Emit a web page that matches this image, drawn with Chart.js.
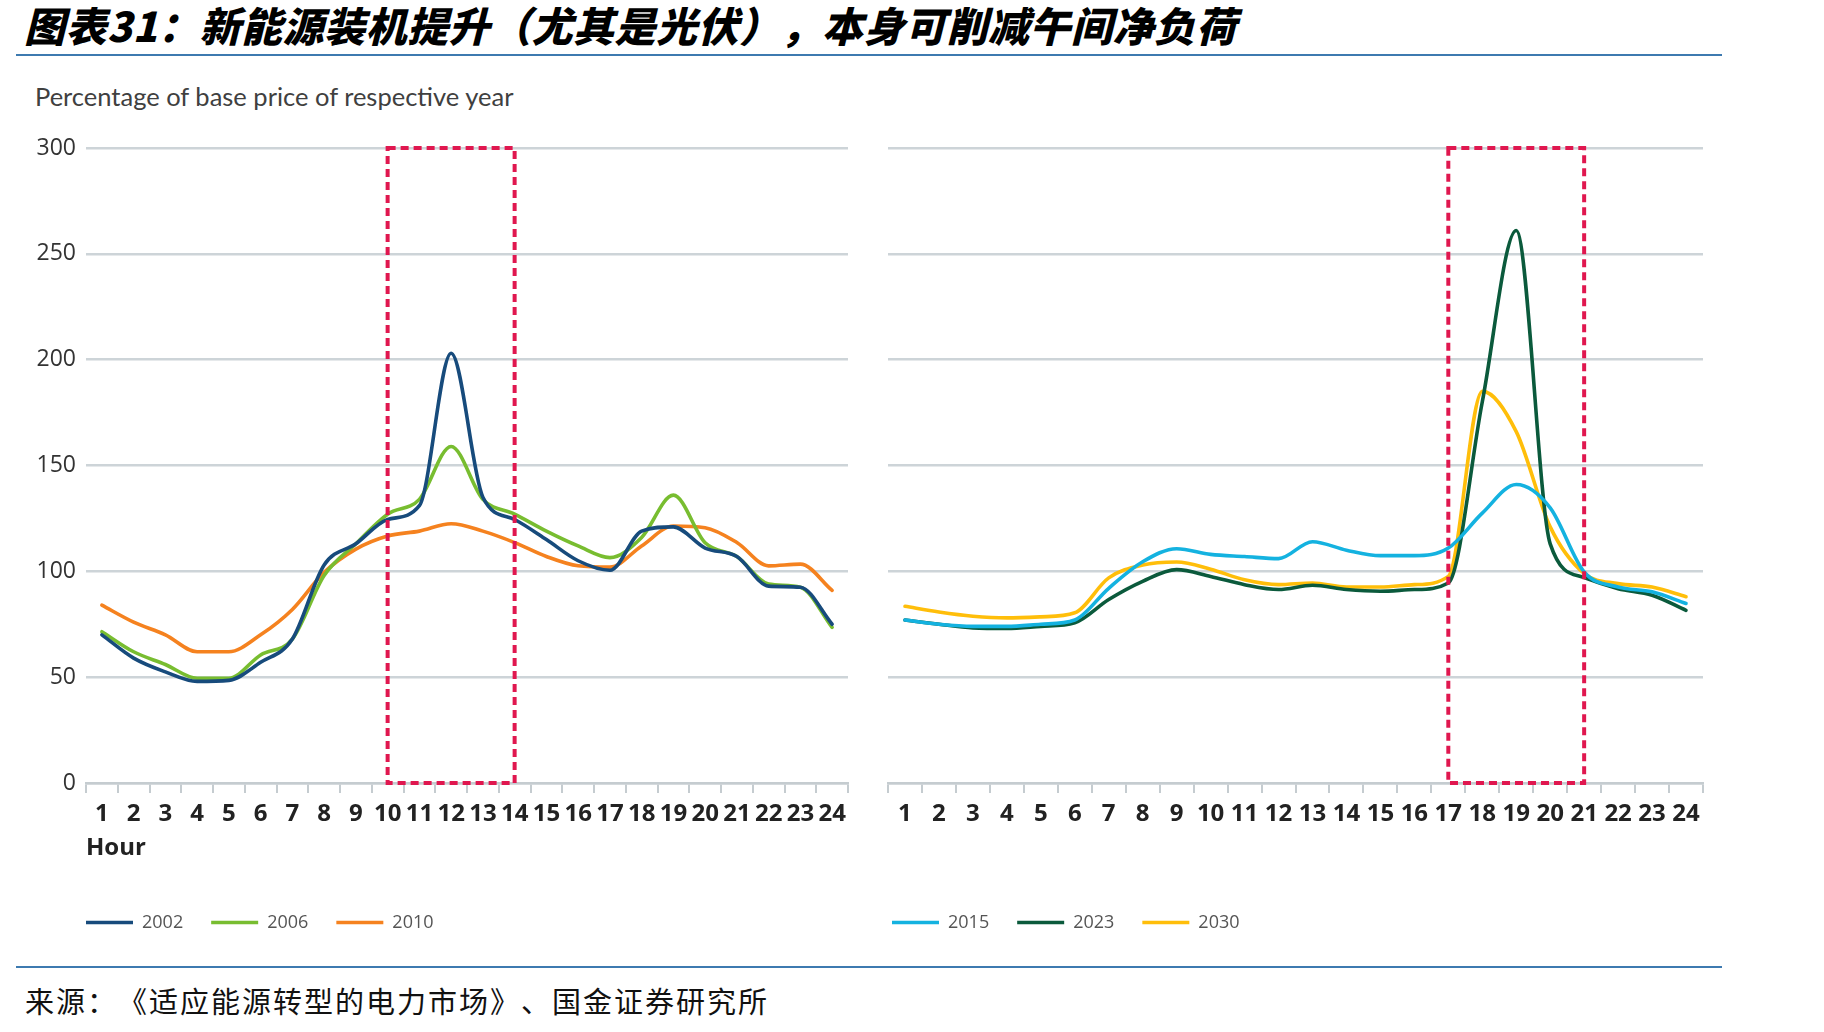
<!DOCTYPE html>
<html>
<head>
<meta charset="utf-8">
<script src="https://cdn.jsdelivr.net/npm/chart.js@4.4.1/dist/chart.umd.min.js"></script>
<style>
  body { margin: 0; background: #fff; width: 1824px; height: 1032px; overflow: hidden; position: relative; }
  .title { position: absolute; left: 24px; top: 0px; font: italic 900 41px "Noto Sans CJK SC"; color: #000; white-space: nowrap; line-height: 48px; letter-spacing: 0.5px; text-spacing-trim: space-all; }
  .rule { position: absolute; left: 16px; width: 1706px; height: 2px; background: #3d7ab0; }
  .ylab { position: absolute; left: 35px; top: 81px; font: 25.5px Lato; color: #404040; white-space: nowrap; }
  .source { position: absolute; left: 25px; top: 981px; font: 400 29px "Noto Sans CJK SC"; color: #111; white-space: nowrap; line-height: 38px; letter-spacing: 2px; text-spacing-trim: space-all; }
  canvas { position: absolute; top: 100px; }
</style>
</head>
<body>
<div class="title">图表31：新能源装机提升（尤其是光伏），本身可削减午间净负荷</div>
<div class="rule" style="top:54px"></div>
<div class="ylab">Percentage of base price of respective year</div>
<canvas id="left" width="880" height="839" style="left:0px"></canvas>
<canvas id="right" width="880" height="839" style="left:870px"></canvas>
<div class="rule" style="top:966px"></div>
<div class="source">来源：《适应能源转型的电力市场》、国金证券研究所</div>
<script>
const hours = ['1','2','3','4','5','6','7','8','9','10','11','12','13','14','15','16','17','18','19','20','21','22','23','24'];

// left panel
const y2002 = [70, 59, 52.5, 48, 48.5, 57, 68, 103, 113, 124.5, 131, 203, 135, 124.5, 115, 105, 100.5, 119, 121, 111, 107, 93, 92.5, 75];
const y2006 = [71.5, 62, 56, 49.5, 49.5, 60.5, 68, 98, 113, 127, 134, 159, 134, 127, 119, 112, 106.5, 116, 136, 113.5, 107, 94, 92.5, 73.5];
const y2010 = [84, 76, 70, 62, 62, 70, 82, 99.5, 110.5, 116.7, 119, 122.5, 119, 113.6, 107, 102.6, 102, 112, 121.4, 120.6, 113.6, 102.6, 103.4, 91];

// right panel
const y2015 = [77, 75, 74, 74, 75, 77, 92, 104.5, 110.7, 108, 107, 106, 114, 110, 107.4, 107.4, 111, 127.5, 141, 130, 99.7, 92.6, 90.3, 84.8];
const y2023 = [77, 75, 73.3, 73, 74, 75.7, 86.7, 95.3, 100.8, 97.6, 93.7, 91.4, 93.4, 91.4, 90.6, 91.4, 94.5, 180, 261, 113, 97, 91.8, 88.7, 81.6];
const y2030 = [83.5, 80.8, 78.8, 78, 78.5, 80.4, 96.9, 103, 104.4, 101, 96, 93.7, 94.5, 92.6, 92.6, 93.7, 97.6, 185, 166, 121, 99, 94.2, 92.6, 88];

const yTicks = [0, 50, 100, 150, 200, 250, 300];
const leftHighlight = ['10', '14'];
const rightHighlight = ['17', '21'];

Chart.defaults.font.family = 'Open Sans';
Chart.defaults.color = '#333';

const highlightBox = {
  id: 'highlightBox',
  afterDatasetsDraw(chart, args, opts) {
    const { ctx, scales: { x, y } } = chart;
    const x0 = x.getPixelForValue(hours.indexOf(opts.range[0]));
    const x1 = x.getPixelForValue(hours.indexOf(opts.range[1]));
    const y0 = y.getPixelForValue(yTicks[yTicks.length - 1]);
    const y1 = y.getPixelForValue(yTicks[0]);
    ctx.save();
    ctx.strokeStyle = '#e0174f';
    ctx.lineWidth = 4;
    ctx.setLineDash([8, 5]);
    ctx.strokeRect(x0, y0, x1 - x0, y1 - y0);
    ctx.restore();
  }
};

// move the legend so it starts under the plot, as in the source figure
const legendShift = {
  id: 'legendShift',
  afterLayout(chart, args, opts) {
    const lg = chart.legend;
    lg.left = chart.chartArea.left - lg.options.labels.padding + (opts.dx || 0);
    lg.top += 2.5;
  }
};

function makeDataset(label, data, color) {
  return {
    label: label,
    data: data,
    borderColor: color,
    backgroundColor: color,
    borderWidth: 3.6,
    pointRadius: 0,
    cubicInterpolationMode: 'monotone',
    borderCapStyle: 'round'
  };
}

function makeChart(id, datasets, range, showY, pad, dx) {
  return new Chart(document.getElementById(id), {
    type: 'line',
    data: { labels: hours, datasets: datasets },
    plugins: [highlightBox, legendShift],
    options: {
      responsive: false,
      animation: false,
      devicePixelRatio: 1,
      layout: { padding: pad },
      plugins: {
        highlightBox: { range: range },
        legendShift: { dx: dx },
        tooltip: { enabled: false },
        legend: {
          position: 'bottom',
          align: 'start',
          labels: {
            usePointStyle: true,
            pointStyle: 'line',
            pointStyleWidth: 47,
            padding: 28,
            color: '#555',
            font: { size: 18 }
          }
        }
      },
      scales: {
        x: {
          offset: true,
          afterFit: (s) => { s.height = 100; },
          grid: { offset: true, drawOnChartArea: false, drawTicks: true, tickLength: 10, color: '#c5ccd0', lineWidth: 2 },
          border: { display: true, color: '#c5ccd0', width: 2.5 },
          ticks: { maxRotation: 0, autoSkip: false, padding: 7, color: '#222', font: { size: 24, weight: 'bold' } },
          title: {
            display: showY,
            text: 'Hour',
            align: 'start',
            color: '#222',
            font: { size: 24, weight: 'bold' },
            padding: { top: 0, bottom: 20.5 }
          }
        },
        y: {
          min: 0,
          max: 300,
          afterFit: (s) => { s.width = showY ? 66 : 0; },
          afterBuildTicks: (s) => { s.ticks = yTicks.map(v => ({ value: v })); },
          grid: { color: '#cdd4d8', lineWidth: 2.5, drawTicks: false },
          border: { display: false },
          ticks: { display: showY, padding: 10, color: '#333', font: { size: 23 } }
        }
      }
    }
  });
}

makeChart('left', [
  makeDataset('2002', y2002, '#174b7c'),
  makeDataset('2006', y2006, '#78bd30'),
  makeDataset('2010', y2010, '#f5821f')
], leftHighlight, true, { top: 48, left: 20, right: 32, bottom: 0 }, 0);

makeChart('right', [
  makeDataset('2015', y2015, '#14b2e0'),
  makeDataset('2023', y2023, '#0b5a3c'),
  makeDataset('2030', y2030, '#ffbe0a')
], rightHighlight, false, { top: 48, left: 18, right: 47, bottom: 0 }, 4);
</script>
</body>
</html>
